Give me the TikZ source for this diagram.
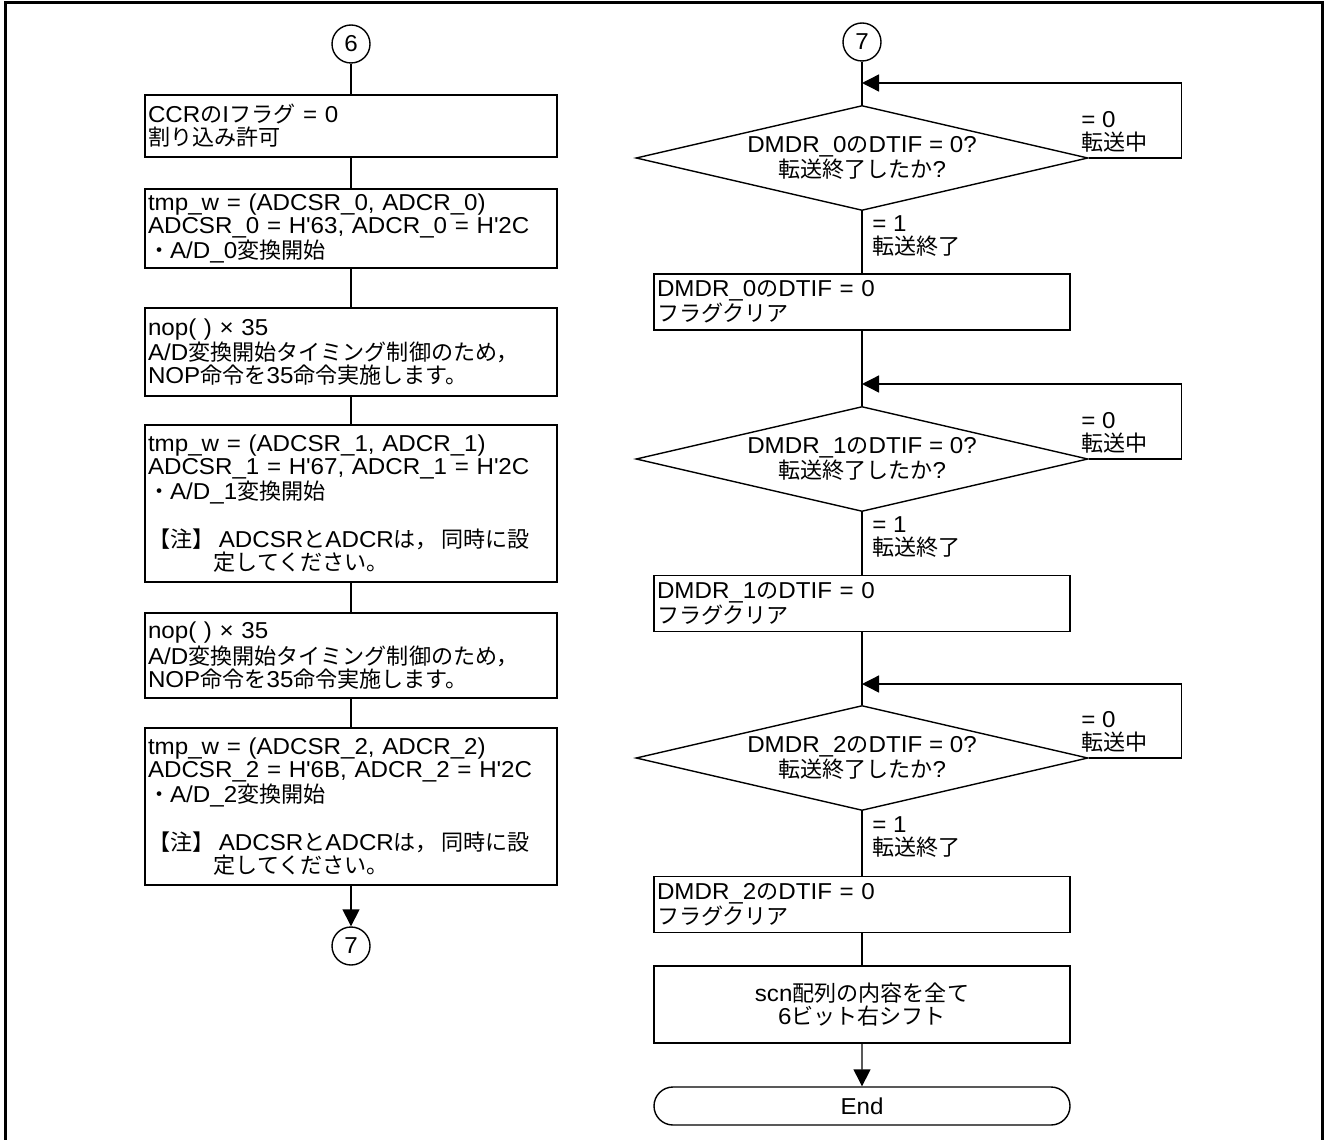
\documentclass[tikz,border=0pt]{standalone}
\usepackage{fontspec}
\setmainfont{Liberation Sans}[FakeStretch=1.05]
\newfontfamily\latinfont{Liberation Sans}[FakeStretch=1.05]
\newfontfamily\jpfont{Noto Sans CJK JP}[Scale=0.96]
\usetikzlibrary{shapes.geometric,shapes.misc,arrows.meta}
\makeatletter
\newXeTeXintercharclass\JPclass
\count@="3000
\loop \XeTeXcharclass\count@=\JPclass \ifnum\count@<"30FF \advance\count@ by 1 \repeat
\count@="4E00
\loop \XeTeXcharclass\count@=\JPclass \ifnum\count@<"9FFF \advance\count@ by 1 \repeat
\count@="FF00
\loop \XeTeXcharclass\count@=\JPclass \ifnum\count@<"FFEF \advance\count@ by 1 \repeat
\XeTeXinterchartoks 0 \JPclass = {\jpfont}
\XeTeXinterchartoks 4095 \JPclass = {\jpfont}
\XeTeXinterchartoks \JPclass 0 = {\latinfont}
\XeTeXinterchartoks \JPclass 4095 = {\latinfont}
\makeatother
\XeTeXinterchartokenstate=1
\newcommand{\sq}{\textquotesingle}
\tikzset{
  lbox/.style={draw, line width=0.7pt, inner xsep=1.5pt, inner ysep=0pt, text width=203pt, align=left},
  rbox/.style={draw, line width=0.7pt, inner xsep=1.5pt, inner ysep=0pt, text width=205pt, align=left},
  conn/.style={circle, draw, line width=0.7pt, inner sep=0pt, minimum size=19pt},
  dec/.style={diamond, draw, line width=0.7pt, inner sep=0pt, shape aspect=4.3, minimum width=226pt, minimum height=52.5pt, align=center},
  term/.style={rounded rectangle, draw, line width=0.7pt, minimum width=208pt, minimum height=19pt, inner sep=0pt},
  lbl/.style={align=left, inner sep=0pt},
  line/.style={line width=0.7pt},
  arr/.style={line width=0.7pt, -{Triangle[length=8.5pt,width=8.5pt]}},
}
\begin{document}
\begin{tikzpicture}[x=0.5pt, y=-0.5pt, font=\fontsize{11.5pt}{11.5pt}\selectfont]
\useasboundingbox (0,0) rectangle (1325,1139);
% frame
\draw[line width=1.5pt] (5,1145) -- (5,3) -- (1322,3) -- (1322,1145);
% left column
\node[conn] (c6) at (351,44) {6};
\node[lbox, minimum height=31pt] (b1) at (351,126) {CCRのIフラグ = 0\\割り込み許可};
\node[lbox, minimum height=39.5pt] (b2) at (351,228.5) {tmp\_w = (ADCSR\_0, ADCR\_0)\\ADCSR\_0 = H\sq 63, ADCR\_0 = H\sq 2C\\・A/D\_0変換開始};
\node[lbox, minimum height=44pt] (b3) at (351,352) {nop( ) × 35\\A/D変換開始タイミング制御のため，\\NOP命令を35命令実施します。};
\node[lbox, minimum height=78.5pt] (b4) at (351,503.5) {tmp\_w = (ADCSR\_1, ADCR\_1)\\ADCSR\_1 = H\sq 67, ADCR\_1 = H\sq 2C\\・A/D\_1変換開始\\[11.5pt]【注】\hspace{0.2em}ADCSRとADCRは，\hspace{0.15em}同時に設\\\hspace*{2.85em}定してください。};
\node[lbox, minimum height=42.5pt] (b5) at (351,655.5) {nop( ) × 35\\A/D変換開始タイミング制御のため，\\NOP命令を35命令実施します。};
\node[lbox, minimum height=78.5pt] (b6) at (351,806.5) {tmp\_w = (ADCSR\_2, ADCR\_2)\\ADCSR\_2 = H\sq 6B, ADCR\_2 = H\sq 2C\\・A/D\_2変換開始\\[11.5pt]【注】\hspace{0.2em}ADCSRとADCRは，\hspace{0.15em}同時に設\\\hspace*{2.85em}定してください。};
\node[conn] (c7a) at (351,946) {7};
\draw[line] (c6) -- (b1);
\draw[line] (b1) -- (b2);
\draw[line] (b2) -- (b3);
\draw[line] (b3) -- (b4);
\draw[line] (b4) -- (b5);
\draw[line] (b5) -- (b6);
\draw[arr] (b6) -- (c7a);
% right column
\node[conn] (c7b) at (862,42) {7};
\coordinate (j1) at (862,83);
\node[dec] (d1) at (862,158) {DMDR\_0のDTIF = 0?\\転送終了したか?};
\node[rbox, minimum height=28pt] (r1) at (862,302) {DMDR\_0のDTIF = 0\\フラグクリア};
\coordinate (j2) at (862,384);
\node[dec] (d2) at (862,459) {DMDR\_1のDTIF = 0?\\転送終了したか?};
\node[rbox, minimum height=28pt] (r2) at (862,603.5) {DMDR\_1のDTIF = 0\\フラグクリア};
\coordinate (j3) at (862,684);
\node[dec] (d3) at (862,758) {DMDR\_2のDTIF = 0?\\転送終了したか?};
\node[rbox, minimum height=28pt] (r3) at (862,904.5) {DMDR\_2のDTIF = 0\\フラグクリア};
\node[rbox, align=center, minimum height=38.5pt] (r4) at (862,1004.5) {scn配列の内容を全て\\6ビット右シフト};
\node[term] (end) at (862,1106) {End};
\node[lbl, anchor=west] (l0a) at (1081,132) {= 0\\転送中};
\node[lbl, anchor=west] (l1a) at (872,236) {= 1\\転送終了};
\node[lbl, anchor=west] (l0b) at (1081,433) {= 0\\転送中};
\node[lbl, anchor=west] (l1b) at (872,537) {= 1\\転送終了};
\node[lbl, anchor=west] (l0c) at (1081,732) {= 0\\転送中};
\node[lbl, anchor=west] (l1c) at (872,837) {= 1\\転送終了};
\draw[line] (c7b) -- (d1);
\draw[line] (d1) -- (r1);
\draw[line] (r1) -- (d2);
\draw[line] (d2) -- (r2);
\draw[line] (r2) -- (d3);
\draw[line] (d3) -- (r3);
\draw[line] (r3) -- (r4);
\draw[arr] (r4) -- (end);
\draw[arr] (d1.east) -- ++(93,0) |- (j1);
\draw[arr] (d2.east) -- ++(93,0) |- (j2);
\draw[arr] (d3.east) -- ++(93,0) |- (j3);
\end{tikzpicture}
\end{document}
